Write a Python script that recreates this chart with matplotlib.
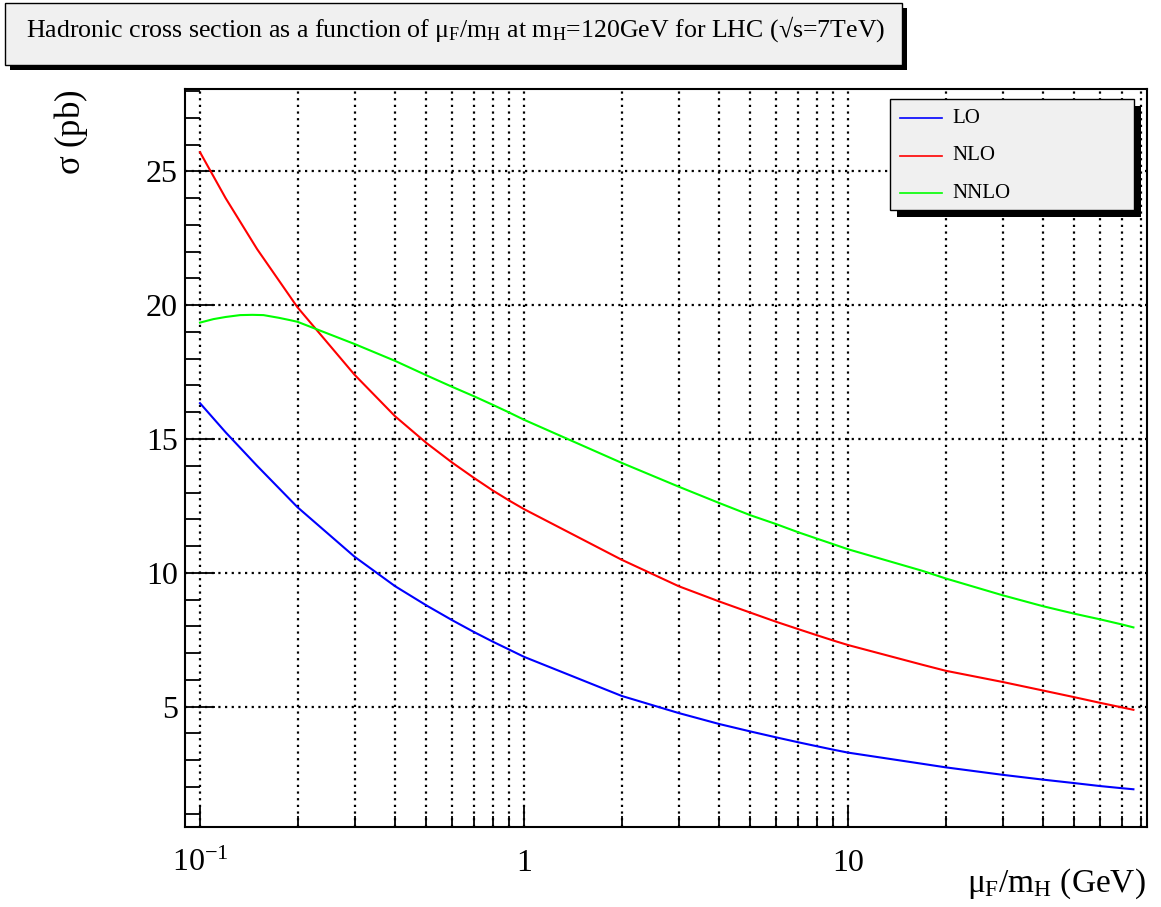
import numpy as np
import matplotlib.pyplot as plt
from matplotlib.patches import Rectangle
from matplotlib.lines import Line2D
from matplotlib.ticker import FixedLocator, NullFormatter, FixedFormatter

plt.rcParams['font.family'] = 'Liberation Serif'
plt.rcParams['mathtext.fontset'] = 'custom'
plt.rcParams['mathtext.rm'] = 'Liberation Serif'
plt.rcParams['mathtext.it'] = 'Liberation Serif'
plt.rcParams['mathtext.bf'] = 'Liberation Serif:bold'

W, H = 1161, 907

# mu_F/m_H scan points and hadronic cross sections (pb)
mu = [0.1, 0.12, 0.15, 0.2, 0.3, 0.4, 0.5, 0.6, 0.7, 0.8, 0.9, 1, 2, 3, 4, 5, 6,
      7, 8, 9, 10, 17, 20, 30, 40, 50, 60, 70, 76]
sigma_lo = [16.34, 15.25, 14.00, 12.45, 10.60, 9.50, 8.78, 8.23, 7.79, 7.43, 7.13,
            6.86, 5.40, 4.76, 4.35, 4.07, 3.85, 3.67, 3.52, 3.39, 3.28, 2.86, 2.73,
            2.45, 2.27, 2.14, 2.03, 1.95, 1.91]
sigma_nlo = [25.72, 24.00, 22.10, 19.92, 17.40, 15.85, 14.85, 14.12, 13.55, 13.08,
             12.70, 12.38, 10.49, 9.50, 8.93, 8.51, 8.17, 7.90, 7.67, 7.47, 7.30,
             6.56, 6.34, 5.92, 5.60, 5.35, 5.14, 4.97, 4.88]
mu_nnlo = [0.1, 0.11, 0.12, 0.133, 0.145, 0.157, 0.175, 0.19, 0.2, 0.3, 0.4, 0.5,
           0.6, 0.7, 0.8, 0.9, 1, 2, 3, 4, 5, 6, 7, 8, 9, 10, 17, 20, 30, 40, 50,
           60, 70, 76]
sigma_nnlo = [19.35, 19.48, 19.56, 19.63, 19.64, 19.63, 19.53, 19.44, 19.38, 18.55,
              17.92, 17.38, 16.95, 16.60, 16.28, 15.99, 15.72, 14.11, 13.22, 12.61,
              12.15, 11.82, 11.52, 11.28, 11.07, 10.88, 10.07, 9.79, 9.16, 8.75,
              8.47, 8.26, 8.07, 7.96]

labels = ['LO', 'NLO', 'NNLO']
colors = ['#0000ff', '#ff0000', '#00ff00']

xticks_major = [0.1, 1, 10]
xtick_labels = [r'$10^{-1}$', '1', '10']
xticks_minor = [0.2, 0.3, 0.4, 0.5, 0.6, 0.7, 0.8, 0.9, 2, 3, 4, 5, 6, 7, 8, 9,
                20, 30, 40, 50, 60, 70, 80]
yticks_major = [5, 10, 15, 20, 25]
yticks_minor = list(range(1, 29))


def fx(x):
    return x / W


def fy(y):
    return 1 - y / H


fig = plt.figure(figsize=(W / 100, H / 100), dpi=100)
ax = fig.add_axes([fx(185), fy(827), (1147 - 185) / W, (827 - 89) / H])

lines = []
for xs, ys, c, lab in zip([mu, mu, mu_nnlo], [sigma_lo, sigma_nlo, sigma_nnlo],
                          colors, labels):
    ln, = ax.plot(xs, ys, color=c, linewidth=1.5, label=lab, zorder=3)
    lines.append(ln)

ax.set_xscale('log')
ax.set_xlim(0.0899, 83.7)
ax.set_ylim(0.5, 28.08)

ax.xaxis.set_major_locator(FixedLocator(xticks_major))
ax.xaxis.set_major_formatter(FixedFormatter(xtick_labels))
ax.xaxis.set_minor_locator(FixedLocator(xticks_minor))
ax.xaxis.set_minor_formatter(NullFormatter())
ax.yaxis.set_major_locator(FixedLocator(yticks_major))
ax.yaxis.set_minor_locator(FixedLocator(yticks_minor))

dots = (0, (1, 2))
ax.set_axisbelow(True)
ax.grid(which='major', axis='both', color='black', linestyle=dots, linewidth=1.6)
ax.grid(which='minor', axis='x', color='black', linestyle=dots, linewidth=1.6)

ax.tick_params(axis='y', which='major', direction='in', length=21.6, width=1.3,
               labelsize=23, pad=5)
ax.tick_params(axis='y', which='minor', direction='in', length=10.8, width=1.3)
ax.tick_params(axis='x', which='major', direction='in', length=15.8, width=1.3,
               labelsize=23, pad=16)
ax.tick_params(axis='x', which='minor', direction='in', length=7.9, width=1.3)
for sp in ax.spines.values():
    sp.set_linewidth(1.5)

# axis titles
fig.text(fx(71), fy(89), r'$\mathrm{\sigma}$ (pb)', rotation=90, ha='center',
         va='top', fontsize=25)
fig.text(fx(1146), fy(892), r'$\mu_F/m_H$ (GeV)', ha='right', va='baseline',
         fontsize=24)

# title box with shadow
fig.add_artist(Rectangle((fx(10), fy(70)), fx(897), (70 - 8) / H,
                         facecolor='black', edgecolor='none', zorder=5))
fig.add_artist(Rectangle((fx(5), fy(65)), fx(897), (65 - 3) / H,
                         facecolor='#f0f0f0', edgecolor='black', linewidth=1,
                         zorder=6))
fig.text(fx(26), fy(37),
         r'Hadronic cross section as a function of $\mu_F/m_H$ at $m_H$=120GeV'
         ' for LHC (\u221As=7TeV)',
         ha='left', va='baseline', fontsize=18.6, zorder=7)

# legend box with shadow
fig.add_artist(Rectangle((fx(897), fy(216.5)), fx(244), (209.5 - 99.5) / H,
                         facecolor='black', edgecolor='none', zorder=5))
fig.add_artist(Rectangle((fx(890), fy(209.5)), fx(244), (209.5 - 99.5) / H,
                         facecolor='#f0f0f0', edgecolor='black', linewidth=1,
                         zorder=6))
for ln, row in zip(lines, [118, 156, 193]):
    fig.add_artist(Line2D([fx(900), fx(942)], [fy(row), fy(row)],
                          color=ln.get_color(), linewidth=1.2, zorder=7))
    fig.text(fx(952), fy(row), ln.get_label(), ha='left', va='center',
             fontsize=15, zorder=7)

fig.savefig('out.png', dpi=100)
